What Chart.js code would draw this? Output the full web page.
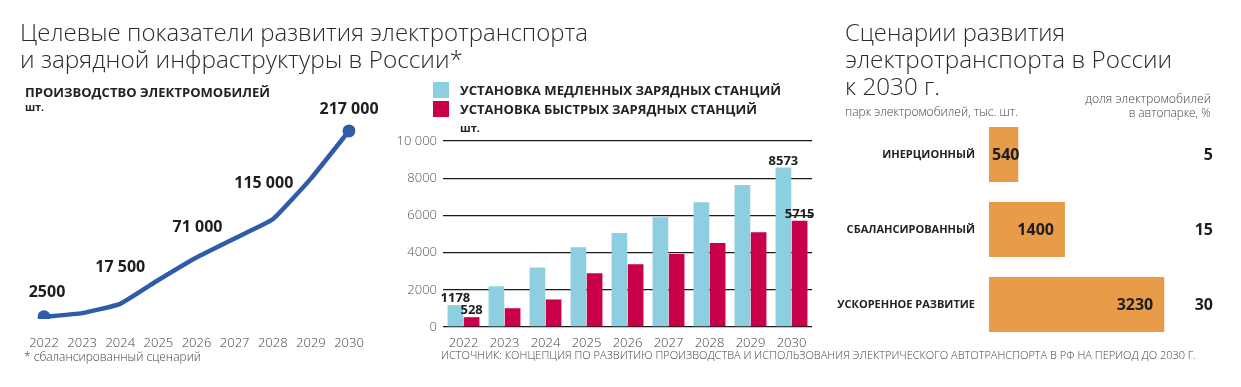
<!DOCTYPE html>
<html lang="ru">
<head>
<meta charset="utf-8">
<script src="https://cdn.jsdelivr.net/npm/chart.js@4.4.1/dist/chart.umd.min.js"></script>
<style>
  html, body { margin: 0; padding: 0; background: #fff; }
  body { width: 1241px; height: 387px; position: relative; overflow: hidden; font-family: "Open Sans", sans-serif; color: #222; }
  canvas.layer { position: absolute; left: 0; top: 0; }
  .t { position: absolute; white-space: nowrap; line-height: 1; transform-origin: left center; }
  .t.r { transform-origin: right center; }
  .title { font-size: 23px; font-weight: 300; color: #2b2b2b; }
  .caps { font-size: 13px; font-weight: 700; color: #222; }
  .note { font-size: 12px; font-weight: 300; color: #444; }
  .sw { position: absolute; width: 16px; height: 16px; }
</style>
</head>
<body>
<canvas id="lineChart" class="layer" width="1241" height="387"></canvas>
<canvas id="barChart" class="layer" width="1241" height="387"></canvas>
<canvas id="scenChart" class="layer" width="1241" height="387"></canvas>

<div class="t title" style="left:20px;top:21px" data-w="568">Целевые показатели развития электротранспорта</div>
<div class="t title" style="left:20px;top:48px" data-w="443">и зарядной инфраструктуры в России*</div>
<div class="t caps" style="left:25px;top:86px" data-w="245">ПРОИЗВОДСТВО ЭЛЕКТРОМОБИЛЕЙ</div>
<div class="t caps" style="left:25px;top:101px;font-size:11px" data-w="19">шт.</div>
<div class="t note" style="left:24px;top:351px" data-w="177">* сбалансированный сценарий</div>

<div id="legend"></div>
<div class="t caps" style="left:460px;top:122px;font-size:11px" data-w="20">шт.</div>
<div class="t note" style="left:441px;top:349px;font-size:11px" data-w="755">ИСТОЧНИК: КОНЦЕПЦИЯ ПО РАЗВИТИЮ ПРОИЗВОДСТВА И ИСПОЛЬЗОВАНИЯ ЭЛЕКТРИЧЕСКОГО АВТОТРАНСПОРТА В РФ НА ПЕРИОД ДО 2030 Г.</div>

<div class="t title" style="left:845px;top:21px" data-w="220">Сценарии развития</div>
<div class="t title" style="left:845px;top:48px" data-w="327">электротранспорта в России</div>
<div class="t title" style="left:845px;top:75px" data-w="95">к 2030 г.</div>
<div class="t note" style="left:845px;top:106px" data-w="173">парк электромобилей, тыс. шт.</div>
<div class="t note r" style="right:30px;top:93px" data-w="126">доля электромобилей</div>
<div class="t note r" style="right:30px;top:107px" data-w="82">в автопарке, %</div>

<script>
// ---- data ----
const years = ['2022', '2023', '2024', '2025', '2026', '2027', '2028', '2029', '2030'];
const evOutput = [2500, 6800, 17500, 45000, 71000, 93000, 115000, 162000, 217000];
const evLabelled = [0, 2, 4, 6, 8];

const slowLabel = 'УСТАНОВКА МЕДЛЕННЫХ ЗАРЯДНЫХ СТАНЦИЙ';
const fastLabel = 'УСТАНОВКА БЫСТРЫХ ЗАРЯДНЫХ СТАНЦИЙ';
const slowStations = [1178, 2190, 3200, 4290, 5050, 5900, 6710, 7630, 8573];
const fastStations = [528, 1010, 1480, 2890, 3380, 3920, 4510, 5100, 5715];
const stationTicks = [0, 2000, 4000, 6000, 8000, 10000];

const scenarios = ['ИНЕРЦИОННЫЙ', 'СБАЛАНСИРОВАННЫЙ', 'УСКОРЕННОЕ РАЗВИТИЕ'];
const evFleet = [540, 1400, 3230];
const evShare = [5, 15, 30];

const FONT = '"Open Sans", sans-serif';
const BLUE = '#2e5ca8', SKY = '#8dcfe0', CRIMSON = '#c8004a', ORANGE = '#e89c4a';

// 2500 stays plain, 17 500 gets a space
const fmt = v => v >= 10000 ? String(v).replace(/\B(?=(\d{3})+(?!\d))/g, ' ') : String(v);

// legend
const legend = document.getElementById('legend');
[[slowLabel, SKY, 82, 84, 321], [fastLabel, CRIMSON, 101, 103, 297]].forEach(([txt, col, sy, ty, w]) => {
    legend.insertAdjacentHTML('beforeend',
        `<div class="sw" style="left:433px;top:${sy}px;background:${col}"></div>` +
        `<div class="t caps" style="left:460px;top:${ty}px" data-w="${w}">${txt}</div>`);
});

// squeeze text lines to the widths in the picture
document.querySelectorAll('[data-w]').forEach(el => {
    const w = el.getBoundingClientRect().width;
    el.style.transform = `scaleX(${el.dataset.w / w})`;
});

// ---- 1. line chart ----
const lineLabelOffsets = { 0: [3, -20], 2: [0, -32], 4: [1, -25], 6: [-9, -31], 8: [0, -17] };
const lineLabels = {
    id: 'lineLabels',
    afterDatasetsDraw(chart) {
        const { ctx } = chart;
        const pts = chart.getDatasetMeta(0).data;
        ctx.save();
        ctx.font = `700 16px ${FONT}`;
        ctx.fillStyle = '#1e1e1e';
        ctx.textAlign = 'center';
        ctx.textBaseline = 'alphabetic';
        evLabelled.forEach(i => {
            const [dx, dy] = lineLabelOffsets[i];
            ctx.fillText(fmt(evOutput[i]), pts[i].x + dx, pts[i].y + dy);
        });
        ctx.restore();
    }
};

new Chart(document.getElementById('lineChart'), {
    type: 'line',
    data: {
        labels: years,
        datasets: [{
            data: evOutput,
            borderColor: BLUE,
            backgroundColor: BLUE,
            borderWidth: 4.5,
            tension: 0.12,
            pointRadius: ctx => (ctx.dataIndex === 0 || ctx.dataIndex === years.length - 1) ? 6.5 : 0,
            pointBorderWidth: 0
        }]
    },
    options: {
        responsive: false,
        animation: false,
        layout: { padding: { left: 44, right: 1241 - 349, top: 111, bottom: 28 } },
        plugins: { legend: { display: false }, tooltip: { enabled: false } },
        scales: {
            x: {
                offset: false,
                grid: { display: false, drawTicks: false },
                border: { display: false },
                ticks: { font: { family: FONT, size: 13, weight: 300 }, color: '#444', padding: 16, maxRotation: 0, autoSkip: false },
                afterFit: s => { s.height = 40; }
            },
            y: { display: false, min: 0, max: 240000 }
        }
    },
    plugins: [lineLabels]
});

// ---- 2. charging stations ----
const barLabels = {
    id: 'barLabels',
    afterDatasetsDraw(chart) {
        const { ctx } = chart;
        ctx.save();
        ctx.font = `700 13px ${FONT}`;
        ctx.fillStyle = '#1e1e1e';
        ctx.textAlign = 'center';
        ctx.textBaseline = 'alphabetic';
        chart.data.datasets.forEach((ds, di) => {
            const bars = chart.getDatasetMeta(di).data;
            [0, ds.data.length - 1].forEach(i => {
                ctx.fillText(String(ds.data[i]), bars[i].x, bars[i].y - 3);
            });
        });
        ctx.restore();
    }
};

new Chart(document.getElementById('barChart'), {
    type: 'bar',
    data: {
        labels: years,
        datasets: [
            { label: slowLabel, data: slowStations, backgroundColor: SKY, categoryPercentage: 0.79, barPercentage: 0.97 },
            { label: fastLabel, data: fastStations, backgroundColor: CRIMSON, categoryPercentage: 0.79, barPercentage: 0.97 }
        ]
    },
    options: {
        responsive: false,
        animation: false,
        layout: { padding: { left: 383, right: 1241 - 812, top: 141, bottom: 20 } },
        plugins: { legend: { display: false }, tooltip: { enabled: false } },
        scales: {
            x: {
                grid: { display: false, drawTicks: false },
                border: { display: false },
                ticks: { font: { family: FONT, size: 13, weight: 300 }, color: '#444', padding: 8, maxRotation: 0 },
                afterFit: s => { s.height = 40; }
            },
            y: {
                min: 0, max: 10000,
                afterBuildTicks: s => { s.ticks = stationTicks.map(v => ({ value: v })); },
                grid: { color: '#1a1a1a', lineWidth: 1.3, drawTicks: false },
                border: { display: false },
                ticks: { font: { family: FONT, size: 13, weight: 300 }, color: '#555', padding: 6, callback: v => fmt(v) },
                afterFit: s => { s.width = 60; }
            }
        }
    },
    plugins: [barLabels]
});

// ---- 3. scenarios 2030 ----
const scenLabels = {
    id: 'scenLabels',
    afterDatasetsDraw(chart) {
        const { ctx } = chart;
        const bars = chart.getDatasetMeta(0).data;
        ctx.save();
        ctx.font = `700 16px ${FONT}`;
        ctx.fillStyle = '#1e1e1e';
        ctx.textBaseline = 'middle';
        bars.forEach((b, i) => {
            const txt = String(evFleet[i]);
            const w = ctx.measureText(txt).width;
            // right-aligned inside the bar, but never past its left edge
            const xs = Math.max(b.base + 3, b.x - 11 - w);
            ctx.textAlign = 'left';
            ctx.fillText(txt, xs, b.y + 1);
            ctx.textAlign = 'right';
            ctx.fillText(String(evShare[i]), 1213, b.y + 1);
        });
        ctx.restore();
    }
};

new Chart(document.getElementById('scenChart'), {
    type: 'bar',
    data: {
        labels: scenarios,
        datasets: [{ data: evFleet, backgroundColor: ORANGE, categoryPercentage: 0.733, barPercentage: 1 }]
    },
    options: {
        indexAxis: 'y',
        responsive: false,
        animation: false,
        layout: { padding: { left: 789, right: 35, top: 117, bottom: 45 } },
        plugins: { legend: { display: false }, tooltip: { enabled: false } },
        scales: {
            x: { display: false, min: 0, max: 4000 },
            y: {
                grid: { display: false, drawTicks: false },
                border: { display: false },
                ticks: { font: { family: FONT, size: 11, weight: 700 }, color: '#222', padding: 14 },
                afterFit: s => { s.width = 200; }
            }
        }
    },
    plugins: [scenLabels]
});
</script>
</body>
</html>
